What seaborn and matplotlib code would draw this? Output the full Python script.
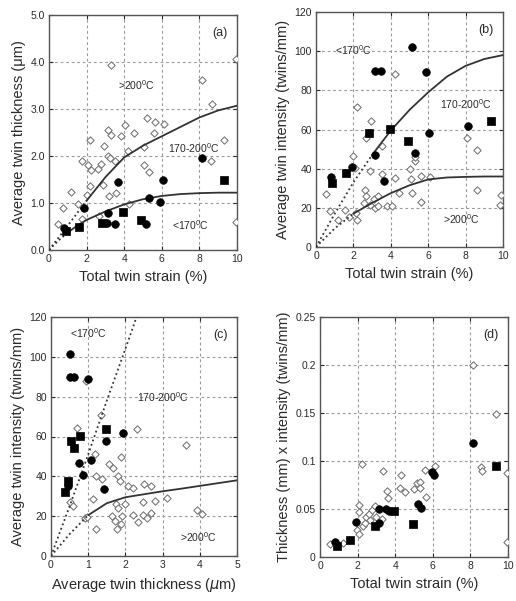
import numpy as np
import matplotlib
matplotlib.use("Agg")
import matplotlib.pyplot as plt
import seaborn as sns

# ---------------- data ----------------
# (a) total twin strain (%) vs average twin thickness (um)
a_circ_x = [0.82, 1.88, 3.1, 3.15, 3.5, 3.65, 5.15, 5.3, 5.9, 6.05, 8.15]
a_circ_y = [0.46, 0.9, 0.57, 0.78, 0.56, 1.45, 0.56, 1.1, 1.02, 1.48, 1.95]
a_sq_x = [0.9, 1.58, 2.84, 3.93, 4.88, 9.32]
a_sq_y = [0.4, 0.49, 0.57, 0.8, 0.64, 1.48]
a_dia_x = [0.5, 0.75, 1.15, 1.55, 1.75, 1.75, 2.0, 2.1, 2.2, 2.2, 2.25, 2.6, 2.65, 2.85,
           2.75, 2.95, 3.15, 3.15, 3.25, 3.3, 3.3, 3.2, 3.5, 3.55, 3.85, 4.05, 4.2, 4.25,
           4.5, 5.05, 5.05, 5.2, 5.3, 5.6, 5.65, 6.1, 8.15, 8.6, 8.65, 9.3, 9.95, 9.95]
a_dia_y = [0.55, 0.9, 1.23, 0.97, 0.65, 1.9, 1.18, 1.8, 1.36, 2.35, 1.7, 1.72, 0.72, 1.38,
           1.83, 2.22, 2.55, 2.0, 1.95, 2.45, 3.93, 1.15, 1.9, 1.22, 2.42, 2.65, 2.1, 0.97,
           2.5, 2.2, 1.8, 2.8, 1.65, 2.5, 2.72, 2.68, 3.62, 1.9, 3.1, 2.33, 4.07, 0.6]
a_up_x = [0, 1, 2, 3, 4, 5, 6, 7, 8, 9, 10]
a_up_y = [0, 0.52, 1.05, 1.55, 1.97, 2.22, 2.42, 2.62, 2.82, 2.97, 3.07]
a_lo_x = [0, 0.5, 1, 1.5, 2, 3, 4, 5, 6, 7, 8, 9, 10]
a_lo_y = [0, 0.2, 0.37, 0.52, 0.64, 0.82, 0.97, 1.08, 1.15, 1.19, 1.21, 1.22, 1.22]

# (b) total twin strain (%) vs average twin intensity (twins/mm)
b_circ_x = [0.8, 1.9, 3.15, 3.5, 3.15, 3.65, 5.15, 5.3, 5.9, 6.05, 8.15]
b_circ_y = [35.5, 41, 90, 90, 47, 33.5, 102, 48, 89.5, 58, 62]
b_sq_x = [0.85, 1.6, 2.85, 3.95, 4.9, 9.35]
b_sq_y = [32.5, 38, 58, 60.5, 54, 64.5]
b_dia_x = [0.55, 0.77, 1.15, 1.55, 1.75, 2.0, 2.1, 2.15, 2.2, 2.2, 2.55, 2.6, 2.65, 2.7,
           2.9, 2.9, 2.95, 3.1, 3.15, 3.3, 3.3, 3.55, 3.55, 3.8, 4.05, 4.2, 4.25, 4.45,
           5.0, 5.1, 5.15, 5.3, 5.3, 5.6, 5.6, 6.1, 8.1, 8.6, 8.6, 9.9, 9.85]
b_dia_y = [27, 18.5, 13.7, 19, 15.5, 46.5, 40.5, 17.5, 13.7, 71.5, 22.5, 29, 55.5, 26,
           21.5, 39, 64.5, 24.5, 20, 21, 26, 37.5, 51.5, 21, 21, 35, 88.5, 27.5,
           40, 34.5, 27.5, 44, 46, 36.5, 22.8, 35.5, 55.5, 49.5, 29, 26.3, 21.2]
b_up_x = [0, 1, 2, 3, 4, 5, 6, 7, 8, 9, 10]
b_up_y = [0, 17, 33, 47, 59.5, 70, 79, 87, 92.5, 96, 98]
b_lo_x = [0, 1, 2, 3, 4, 5, 6, 7, 8, 9, 10]
b_lo_y = [0, 9.5, 17, 22.5, 27.5, 31.5, 34.5, 35.5, 35.8, 36, 36]

# (c) average twin thickness (um) vs average twin intensity (twins/mm)
c_circ_x = [0.45, 0.52, 0.52, 0.61, 0.99, 0.74, 0.86, 1.08, 1.48, 1.43, 1.94]
c_circ_y = [35, 101.5, 90, 90, 89, 46.5, 40.5, 48, 57.5, 33.5, 62]
c_sq_x = [0.38, 0.47, 0.54, 0.63, 0.79, 1.49]
c_sq_y = [32, 37.5, 57.5, 54, 60.5, 64]
c_dia_x = [0.52, 0.6, 0.7, 0.92, 0.98, 0.95, 1.12, 1.17, 1.2, 1.2, 1.35, 1.37, 1.56, 1.66,
           1.65, 1.72, 1.74, 1.77, 1.79, 1.79, 1.86, 1.88, 1.88, 1.92, 1.99, 2.08, 2.2, 2.2,
           2.32, 2.33, 2.46, 2.46, 2.5, 2.57, 2.69, 2.7, 2.8, 3.11, 3.62, 3.92, 4.07]
c_dia_y = [27, 25, 64.5, 19, 19.8, 88, 28.5, 51, 40, 13.5, 71, 38.5, 46, 44,
           20, 17.5, 26, 13.5, 40, 24, 37.5, 49.5, 16, 20, 26, 35, 34, 20.5,
           64, 17, 27.3, 20.5, 36.2, 19, 21.5, 35.2, 27.5, 29, 55.5, 23, 21.2]
c_dot_x = [0, 0.5, 1.0, 1.5, 2.0, 2.3]
c_dot_y = [0, 25, 51, 78, 104, 120]
c_lo_x = [0, 0.5, 1, 1.5, 2, 2.5, 3, 3.5, 4, 4.5, 5]
c_lo_y = [0, 11, 20.5, 26.5, 29.5, 31, 32.5, 33.8, 35.2, 36.6, 38]

# (d) total twin strain (%) vs thickness x intensity
d_circ_x = [0.8, 1.9, 3.15, 3.15, 3.5, 3.65, 5.2, 5.35, 5.95, 6.05, 8.15]
d_circ_y = [0.016, 0.036, 0.035, 0.05, 0.05, 0.048, 0.055, 0.051, 0.089, 0.085, 0.119]
d_sq_x = [0.9, 1.6, 2.9, 3.95, 4.95, 9.35]
d_sq_y = [0.011, 0.018, 0.032, 0.048, 0.034, 0.095]
d_dia_x = [0.55, 1.2, 1.95, 2.05, 2.1, 2.1, 2.25, 2.3, 2.4, 2.45, 2.65, 2.6, 2.75, 2.9,
           3.0, 3.3, 3.35, 3.55, 3.6, 4.25, 4.3, 4.5, 5.0, 5.15, 5.3, 5.3, 5.6, 5.65,
           6.1, 8.15, 8.55, 8.6, 9.35, 9.95, 9.95]
d_dia_y = [0.014, 0.015, 0.028, 0.054, 0.047, 0.024, 0.097, 0.032, 0.035, 0.042, 0.039,
           0.045, 0.049, 0.053, 0.042, 0.04, 0.09, 0.069, 0.061, 0.072, 0.085, 0.068,
           0.071, 0.077, 0.078, 0.072, 0.091, 0.062, 0.095, 0.2, 0.094, 0.09, 0.149,
           0.087, 0.016]

# ---------------- style ----------------
sns.set_theme(style="white")
plt.rcParams["font.family"] = ["Liberation Sans", "DejaVu Sans"]
plt.rcParams["mathtext.fontset"] = "dejavusans"

TXT = "#2a2a2a"
LINE = "#333333"
DOTS = (0, (1, 1.6))


def draw_points(ax, cx, cy, sx, sy, dx, dy):
    sns.scatterplot(x=dx, y=dy, ax=ax, marker="D", s=14, facecolor="white",
                    edgecolor="#6a6a6a", linewidth=0.7, zorder=3)
    sns.scatterplot(x=cx, y=cy, ax=ax, marker="o", s=30, color="black",
                    edgecolor="black", linewidth=0.5, zorder=5)
    sns.scatterplot(x=sx, y=sy, ax=ax, marker="s", s=30, color="black",
                    edgecolor="black", linewidth=0.5, zorder=5)


def draw_curve(ax, xs, ys, brk=None):
    xs = np.asarray(xs, dtype=float)
    ys = np.asarray(ys, dtype=float)
    if brk is None:
        sns.lineplot(x=xs, y=ys, ax=ax, color=LINE, linestyle=DOTS, linewidth=1.3,
                     sort=False, estimator=None, zorder=4)
        return
    m1 = xs <= brk
    m2 = xs >= brk
    sns.lineplot(x=xs[m1], y=ys[m1], ax=ax, color=LINE, linestyle=DOTS, linewidth=1.3,
                 sort=False, estimator=None, zorder=4)
    sns.lineplot(x=xs[m2], y=ys[m2], ax=ax, color=LINE, linewidth=1.3,
                 sort=False, estimator=None, zorder=4)


def style_axes(ax, xlim, ylim, xticks, yticks, xfmt, yfmt, xlabel, ylabel, tag):
    ax.set_xlim(*xlim)
    ax.set_ylim(*ylim)
    ax.set_xticks(xticks)
    ax.set_yticks(yticks)
    ax.set_xticklabels([xfmt(v) for v in xticks])
    ax.set_yticklabels([yfmt(v) for v in yticks])
    ax.grid(True, linestyle=(0, (2.5, 2.5)), color="#999999", linewidth=0.8, zorder=0)
    ax.set_axisbelow(True)
    ax.tick_params(direction="in", length=3, width=0.8, bottom=True, left=True,
                   top=True, right=True, labelsize=7.5, colors=TXT, pad=3)
    for sp in ax.spines.values():
        sp.set_color("#555555")
        sp.set_linewidth(1.0)
    ax.set_xlabel(xlabel, fontsize=10.5, color=TXT, labelpad=4)
    ax.set_ylabel(ylabel, fontsize=10.5, color=TXT, labelpad=3)
    ax.text(0.95, 0.95, tag, transform=ax.transAxes, ha="right", va="top",
            fontsize=9, color=TXT)


def deg(s):
    return s + r"$^\mathregular{0}$C"


fig = plt.figure(figsize=(5.16, 6.01), dpi=100)
W, H = 516.0, 601.0


def make_ax(left, right, top, bottom):
    return fig.add_axes([left / W, 1 - bottom / H, (right - left) / W, (bottom - top) / H])


ax_a = make_ax(49, 237, 15, 250)
ax_b = make_ax(316, 503, 12, 247)
ax_c = make_ax(51, 237, 317, 556)
ax_d = make_ax(320, 508, 317, 557)

# (a)
draw_curve(ax_a, a_up_x, a_up_y, brk=2)
draw_curve(ax_a, a_lo_x, a_lo_y, brk=1)
draw_points(ax_a, a_circ_x, a_circ_y, a_sq_x, a_sq_y, a_dia_x, a_dia_y)
style_axes(ax_a, (0, 10), (0, 5), [0, 2, 4, 6, 8, 10], [0, 1, 2, 3, 4, 5],
           lambda v: f"{v:g}", lambda v: f"{v:.1f}",
           "Total twin strain (%)", "Average twin thickness (\u03bcm)", "(a)")
ax_a.text(4.65, 3.5, deg(">200"), ha="center", va="center", fontsize=7.5, color=TXT)
ax_a.text(7.7, 2.17, deg("170-200"), ha="center", va="center", fontsize=7.5, color=TXT)
ax_a.text(7.5, 0.53, deg("<170"), ha="center", va="center", fontsize=7.5, color=TXT)

# (b)
draw_curve(ax_b, b_up_x, b_up_y, brk=3)
draw_curve(ax_b, b_lo_x, b_lo_y, brk=2)
draw_points(ax_b, b_circ_x, b_circ_y, b_sq_x, b_sq_y, b_dia_x, b_dia_y)
style_axes(ax_b, (0, 10), (0, 120), [0, 2, 4, 6, 8, 10], [0, 20, 40, 60, 80, 100, 120],
           lambda v: f"{v:g}", lambda v: f"{v:g}",
           "Total twin strain (%)", "Average twin intensity (twins/mm)", "(b)")
ax_b.text(2.0, 100.5, deg("<170"), ha="center", va="center", fontsize=7.5, color=TXT)
ax_b.text(8.0, 73, deg("170-200"), ha="center", va="center", fontsize=7.5, color=TXT)
ax_b.text(7.8, 14.5, deg(">200"), ha="center", va="center", fontsize=7.5, color=TXT)

# (c)
draw_curve(ax_c, c_dot_x, c_dot_y)
draw_curve(ax_c, c_lo_x, c_lo_y, brk=1)
draw_points(ax_c, c_circ_x, c_circ_y, c_sq_x, c_sq_y, c_dia_x, c_dia_y)
style_axes(ax_c, (0, 5), (0, 120), [0, 1, 2, 3, 4, 5], [0, 20, 40, 60, 80, 100, 120],
           lambda v: f"{v:g}", lambda v: f"{v:g}",
           r"Average twin thickness ($\mu$m)", "Average twin intensity (twins/mm)", "(c)")
ax_c.text(1.0, 112, deg("<170"), ha="center", va="center", fontsize=7.5, color=TXT)
ax_c.text(3.0, 80, deg("170-200"), ha="center", va="center", fontsize=7.5, color=TXT)
ax_c.text(3.95, 9.5, deg(">200"), ha="center", va="center", fontsize=7.5, color=TXT)

# (d)
draw_points(ax_d, d_circ_x, d_circ_y, d_sq_x, d_sq_y, d_dia_x, d_dia_y)
style_axes(ax_d, (0, 10), (0, 0.25), [0, 2, 4, 6, 8, 10], [0, 0.05, 0.1, 0.15, 0.2, 0.25],
           lambda v: f"{v:g}", lambda v: f"{v:g}",
           "Total twin strain (%)", "Thickness (mm) x intensity (twins/mm)", "(d)")

fig.savefig("out.png", dpi=100)
